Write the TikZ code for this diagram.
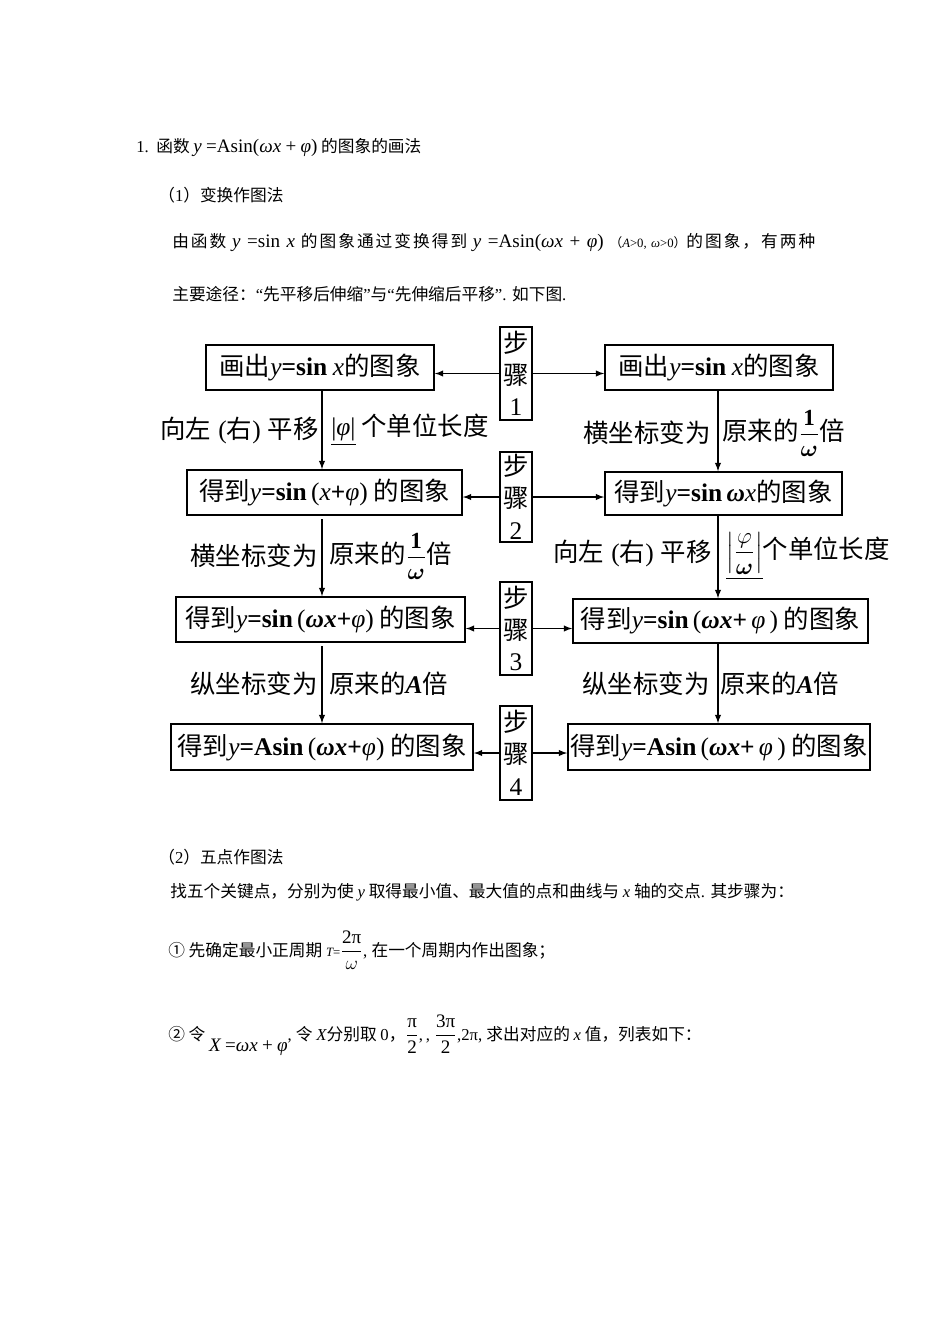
\documentclass[tikz,border=0pt]{standalone}
\usepackage{amsmath}
\usepackage{fontspec}
\setmainfont{Liberation Serif}
\newfontfamily\cjk{Noto Sans CJK SC}
\newfontfamily\cjkwide[LetterSpace=12]{Noto Sans CJK SC}
\newcommand{\px}{0.022105cm}
\newcommand{\txtfont}{\cjk\fontsize{10.5}{13}\selectfont}
\newcommand{\dgfont}{\cjk\fontsize{16}{20}\selectfont}
\newcommand{\rl}[1]{{\rmfamily #1}}
\newcommand{\il}[1]{{\rmfamily\itshape #1}}
\newcommand{\bil}[1]{{\rmfamily\bfseries\itshape #1}}
\newcommand{\midsize}{\fontsize{12}{14}\selectfont}
\newcommand{\fracsize}{\fontsize{14.5}{16}\selectfont}

\begin{document}
\begin{tikzpicture}[x=\px, y=-\px, >=latex,
    box/.style={draw, line width=1.1pt, inner sep=0pt, font=\dgfont},
    stepbox/.style={draw, line width=1.1pt, inner sep=0pt, align=center,
      font=\dgfont, minimum width=32*\px},
    lbl/.style={inner sep=0pt, font=\dgfont},
    txt/.style={anchor=west, inner sep=0pt, font=\txtfont}]
  \useasboundingbox (0,0) rectangle (950,1344);

  % Text above the diagram
  \node[txt] (title) at (136,148) {\rl{1.}\ \ 函数 {\midsize\il{y} \rl{=Asin(}\il{ωx} \rl{+} \il{φ}\rl{)}} 的图象的画法};
  \node[txt] (sec1) at (158,195) {（\rl{1}）变换作图法};
  \node[txt, font=\cjkwide\fontsize{10.5}{13}\selectfont] (par1) at (172,242) {由函数 {\midsize\il{y} \rl{=sin} \il{x}} 的图象通过变换得到 {\midsize\il{y} \rl{=Asin(}\il{ωx} \rl{+} \il{φ}\rl{)}} {\fontsize{8}{10}\selectfont（\il{A}\rl{>0,} \il{ω}\rl{>0}）}的图象，有两种};
  \node[txt] (par2) at (172,294) {主要途径：\rl{“}先平移后伸缩\rl{”}与\rl{“}先伸缩后平移\rl{”. }如下图\rl{.}};

  % Boxes on the left (shift first)
  \node[box, minimum width=228*\px, minimum height=45*\px] (L1) at (320,367.5) {画出\il{y}\rl{\bfseries=sin} \il{x}的图象};
  \node[box, minimum width=275*\px, minimum height=45*\px] (L2) at (324.5,492.5) {得到\il{y}\rl{\bfseries=sin}\rl{\,(}\il{x}\rl{\bfseries+}\il{φ}\rl{)} 的图象};
  \node[box, minimum width=289*\px, minimum height=45*\px] (L3) at (320.5,619.5) {得到\il{y}\rl{\bfseries=sin}\rl{\,(}\bil{ωx}\rl{\bfseries+}\il{φ}\rl{)} 的图象};
  \node[box, minimum width=302*\px, minimum height=46*\px] (L4) at (322,747) {得到\il{y}\rl{\bfseries=Asin}\rl{\,(}\bil{ωx}\rl{\bfseries+}\il{φ}\rl{)} 的图象};

  % Boxes on the right (stretch first)
  \node[box, minimum width=228*\px, minimum height=45*\px] (R1) at (719,367.5) {画出\il{y}\rl{\bfseries=sin} \il{x}的图象};
  \node[box, minimum width=237*\px, minimum height=43*\px] (R2) at (723.5,493.5) {得到\il{y}\rl{\bfseries=sin}\,\bil{ω}\il{x}的图象};
  \node[box, minimum width=295*\px, minimum height=44*\px] (R3) at (720.5,621) {得到\il{y}\rl{\bfseries=sin}\rl{\,(}\bil{ωx}\rl{\bfseries+}\,\il{φ}\rl{\,)} 的图象};
  \node[box, minimum width=302*\px, minimum height=46*\px] (R4) at (719,747) {得到\il{y}\rl{\bfseries=Asin}\rl{\,(}\bil{ωx}\rl{\bfseries+}\,\il{φ}\rl{\,)} 的图象};

  % Step boxes in the middle
  \node[stepbox, minimum height=93*\px] (S1) at (516,373.5) {步\\骤\\\rl{1}};
  \node[stepbox, minimum height=90*\px] (S2) at (516,497) {步\\骤\\\rl{2}};
  \node[stepbox, minimum height=93*\px] (S3) at (516,628.5) {步\\骤\\\rl{3}};
  \node[stepbox, minimum height=94*\px] (S4) at (516,753) {步\\骤\\\rl{4}};

  % Arrows from the steps to both sides
  \foreach \s/\l/\r in {S1/L1/R1, S2/L2/R2, S3/L3/R3, S4/L4/R4} {
    \draw[->, line width=0.8pt] (\s.west) -- (\s.west -| \l.east);
    \draw[->, line width=0.8pt] (\s.east) -- (\s.east -| \r.west);
  }

  % Arrows down each column
  \draw[->, line width=0.8pt] (322,390) coordinate (a1) -- (a1 |- L2.north);
  \draw[->, line width=0.8pt] (322,519) coordinate (a2) -- (a2 |- L3.north);
  \draw[->, line width=0.8pt] (322,646) coordinate (a3) -- (a3 |- L4.north);
  \draw[->, line width=0.8pt] (718,390) coordinate (b1) -- (b1 |- R2.north);
  \draw[->, line width=0.8pt] (718,515) coordinate (b2) -- (b2 |- R3.north);
  \draw[->, line width=0.8pt] (718,643) coordinate (b3) -- (b3 |- R4.north);

  % Labels beside the arrows
  \node[lbl, anchor=east] (la1) at (319,430) {向左\rl{\;(}右\rl{)\;}平移};
  \node[lbl, anchor=west] (ra1) at (331,430) {\underline{\rl{|}\il{φ}\rl{|}} 个单位长度};
  \node[lbl, anchor=east] (la2) at (318,556) {横坐标变为};
  \node[lbl, anchor=west] (ra2) at (329,556) {原来的{\fracsize$\dfrac{\mathbf{1}}{\boldsymbol{\omega}}$}倍};
  \node[lbl, anchor=east] (la3) at (318,684) {纵坐标变为};
  \node[lbl, anchor=west] (ra3) at (329,684) {原来的\bil{A}倍};
  \node[lbl, anchor=east] (lb1) at (711,433) {横坐标变为};
  \node[lbl, anchor=west] (rb1) at (722,433) {原来的{\fracsize$\dfrac{\mathbf{1}}{\boldsymbol{\omega}}$}倍};
  \node[lbl, anchor=east] (lb2) at (712,553) {向左\rl{\;(}右\rl{)\;}平移};
  \node[lbl, anchor=west] (rb2) at (726,556) {\underline{\fracsize$\left|\dfrac{\varphi}{\boldsymbol{\omega}}\right|$}个单位长度};
  \node[lbl, anchor=east] (lb3) at (710,684) {纵坐标变为};
  \node[lbl, anchor=west] (rb3) at (720,684) {原来的\bil{A}倍};

  % Text below the diagram
  \node[txt] (sec2) at (158,857) {（\rl{2}）五点作图法};
  \node[txt] (par3) at (170,892) {找五个关键点，分别为使 \il{y} 取得最小值、最大值的点和曲线与 \il{x} 轴的交点\rl{. }其步骤为：};
  \node[txt] (par4) at (168,950) {① 先确定最小正周期 {\footnotesize\il{T}\rl{=}}{\midsize$\dfrac{\textrm{2π}}{\omega}$}\rl{, }在一个周期内作出图象；};
  \node[txt] (par5) at (168,1035) {② 令 \raisebox{-7pt}{\midsize\il{X} \rl{=}\il{ωx} \rl{+} \il{φ}}\rl{, }令 \il{X}分别取 \rl{0}，{\midsize$\dfrac{\textrm{π}}{\textrm{2}}$}\rl{,\,, }{\midsize$\dfrac{\textrm{3π}}{\textrm{2}}$}\rl{,2π, }求出对应的 \il{x} 值，列表如下：};
\end{tikzpicture}
\end{document}
